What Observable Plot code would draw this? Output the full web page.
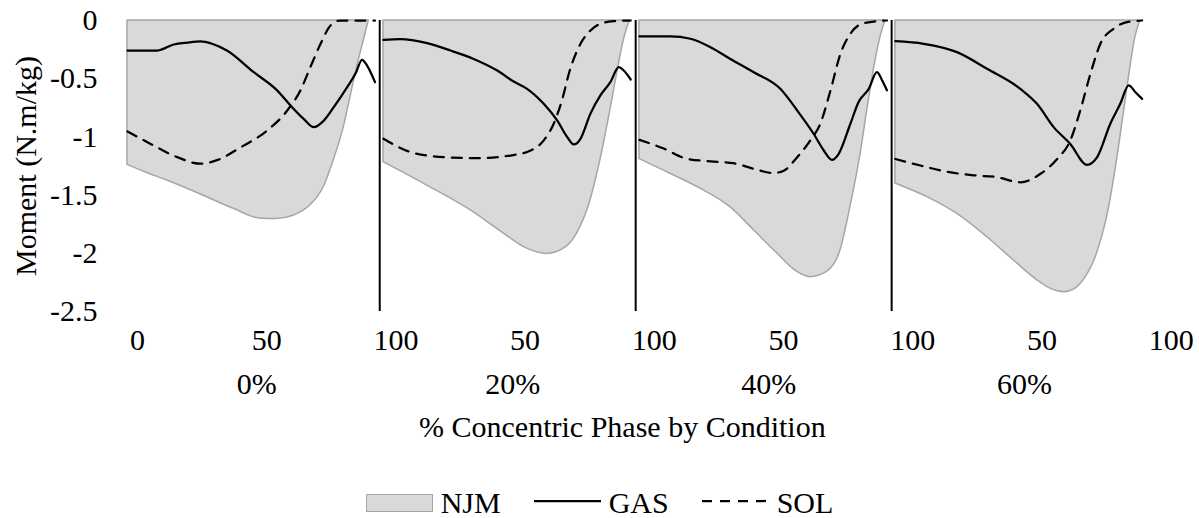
<!DOCTYPE html>
<html><head><meta charset="utf-8">
<script src="https://cdn.jsdelivr.net/npm/d3@7"></script>
<script src="https://cdn.jsdelivr.net/npm/@observablehq/plot@0.6"></script>
<style>
html,body{margin:0;padding:0;background:#fff;overflow:hidden;}
body{width:1199px;height:518px;position:relative;font-family:"Liberation Serif","Times New Roman",serif;color:#000;}
#chart svg{display:block;}
#legend{position:absolute;left:0;top:488px;width:1199px;height:30px;display:flex;justify-content:center;align-items:center;font-size:30px;line-height:30px;}
#legend .item{display:flex;align-items:center;}
#legend .sw{width:67px;height:18px;box-sizing:border-box;background:#d9d9d9;border:1.5px solid #a6a6a6;}
#legend svg{display:block;}
</style></head><body>
<div id="chart"></div>
<div id="legend"></div>
<script>
// Conditions (panels) and axis labels
const conditions = ["0%", "20%", "40%", "60%"];
const xTickLabels = ["0", "50", "100", "50", "100", "50", "100", "50", "100"];
const yTicks = [0, -0.5, -1, -1.5, -2, -2.5];
const seriesNames = ["NJM", "GAS", "SOL"];

// [% concentric phase, moment N.m/kg]
const njm0 = [[0,-1.24],[8,-1.31],[16,-1.375],[29,-1.49],[43,-1.62],[53,-1.70],[60,-1.705],[67,-1.675],[73.5,-1.59],[79,-1.43],[83,-1.20],[87,-0.92],[89.7,-0.66],[92.4,-0.40],[95.1,-0.17],[97.1,0]];
const gas0 = [[0,-0.258],[12,-0.258],[18.6,-0.206],[24,-0.19],[29.4,-0.18],[34,-0.2],[40,-0.258],[50.8,-0.444],[60.2,-0.60],[65.6,-0.73],[70.9,-0.845],[75,-0.916],[79,-0.86],[83,-0.745],[88.4,-0.573],[91.7,-0.458],[94.4,-0.338],[96.4,-0.387],[99.6,-0.53]];
const sol0 = [[0,-0.954],[9.3,-1.06],[20,-1.174],[29.4,-1.23],[36,-1.20],[45.5,-1.09],[56.2,-0.945],[64.3,-0.773],[69.6,-0.60],[73.6,-0.40],[77.7,-0.20],[81.7,-0.043],[85.7,0],[99.6,0]];

const njm20 = [[0,-1.217],[17.6,-1.418],[35,-1.63],[48.4,-1.83],[57.8,-1.96],[65.9,-2.005],[72.6,-1.96],[77.9,-1.83],[83.3,-1.546],[87.3,-1.20],[91.3,-0.773],[94,-0.458],[96.7,-0.172],[99.1,0]];
const gas20 = [[0,-0.166],[6.8,-0.16],[17.6,-0.195],[27,-0.258],[36.3,-0.33],[45.8,-0.43],[52.4,-0.524],[57.8,-0.587],[64.5,-0.716],[69.9,-0.859],[73.9,-1.0],[76.6,-1.065],[79.3,-1.016],[83.3,-0.80],[87.3,-0.644],[91.3,-0.53],[94.7,-0.40],[96.7,-0.43],[99.5,-0.507]];
const sol20 = [[0,-1.016],[10.9,-1.13],[24.3,-1.174],[37.7,-1.183],[51.1,-1.16],[59.2,-1.117],[64.5,-1.03],[68.5,-0.887],[71.4,-0.716],[75.4,-0.40],[79.3,-0.20],[83.3,-0.086],[87.3,-0.028],[92.6,-0.006],[99.5,0]];

const njm40 = [[0,-1.19],[12.5,-1.317],[25.9,-1.46],[36.6,-1.604],[46,-1.80],[55.4,-2.0],[63.5,-2.16],[68.8,-2.205],[75.5,-2.16],[80.9,-1.976],[84.9,-1.604],[89,-1.145],[92.3,-0.687],[95,-0.344],[97,-0.143],[99,0]];
const gas40 = [[0,-0.137],[12.5,-0.137],[20.5,-0.157],[28.6,-0.229],[36.6,-0.33],[46,-0.444],[56.7,-0.587],[63.5,-0.773],[70.1,-0.973],[74.2,-1.117],[77.5,-1.197],[80.2,-1.145],[84.9,-0.887],[88.2,-0.70],[92.3,-0.587],[95.6,-0.444],[97.7,-0.515],[99.6,-0.6]];
const sol40 = [[0,-1.025],[9.8,-1.10],[19.2,-1.188],[28.6,-1.21],[37.9,-1.226],[46,-1.274],[54,-1.31],[58.1,-1.29],[63.5,-1.174],[68.8,-1.03],[72.8,-0.887],[76.9,-0.60],[80.9,-0.286],[84.9,-0.114],[90.3,-0.023],[99.6,0]];

const njm60 = [[0,-1.40],[14.1,-1.53],[24.8,-1.66],[36.9,-1.86],[47.6,-2.06],[57,-2.23],[63,-2.31],[68,-2.335],[72,-2.31],[75.8,-2.23],[81.2,-2.0],[85.2,-1.69],[89.2,-1.20],[91.9,-0.80],[94.6,-0.40],[96.6,-0.143],[98.6,0]];
const gas60 = [[0,-0.178],[11.4,-0.20],[24.8,-0.272],[36.9,-0.415],[50.3,-0.587],[57,-0.716],[63.7,-0.916],[70.4,-1.06],[77.1,-1.24],[81.2,-1.174],[86.5,-0.887],[90.5,-0.716],[93.9,-0.558],[96.6,-0.616],[99.3,-0.673]];
const sol60 = [[0,-1.19],[10.1,-1.246],[20.8,-1.30],[31.5,-1.33],[40.9,-1.346],[50.3,-1.39],[58.4,-1.317],[65.1,-1.19],[70.4,-1.03],[74.4,-0.773],[78.5,-0.458],[82.5,-0.20],[87.8,-0.071],[93.2,-0.014],[99.3,0]];

const njmAll = [njm0, njm20, njm40, njm60];
const gasAll = [gas0, gas20, gas40, gas60];
const solAll = [sol0, sol20, sol40, sol60];

// layout of the continuous category axis (Excel-like)
const PANEL_STEP = 103;
const toRows = (arrs) => arrs.flatMap((arr, k) => arr.map(([p, v]) => ({u: PANEL_STEP * k + p, v, panel: k})));
const njmRows = toRows(njmAll);
const gasRows = toRows(gasAll);
const solRows = toRows(solAll);
const separators = conditions.slice(1).map((_, k) => PANEL_STEP * k + 101.5);
const xTickPos = xTickLabels.map((_, i) => 4 + 52 * i);
const labelAt = new Map(xTickPos.map((u, i) => [u, xTickLabels[i]]));
const groupRows = conditions.map((c, k) => ({u: PANEL_STEP * k + 52, c}));

const FS = 30;
const chart = Plot.plot({
  width: 1199,
  height: 460,
  marginLeft: 127,
  marginRight: 28.3,
  marginTop: 20,
  marginBottom: 149,
  style: {fontFamily: "'Liberation Serif','Times New Roman',serif", fontSize: FS + "px", background: "#fff", overflow: "visible", color: "#000"},
  x: {domain: [0, 420]},
  y: {domain: [-2.5, 0]},
  marks: [
    Plot.areaY(njmRows, {x: "u", y: "v", z: "panel", fill: "#d9d9d9", stroke: "#a6a6a6", strokeWidth: 1.5, curve: "monotone-x"}),
    Plot.ruleX(separators, {y1: 0, y2: -2.5, stroke: "#000", strokeWidth: 2}),
    Plot.line(solRows, {x: "u", y: "v", z: "panel", stroke: "#000", strokeWidth: 2.25, strokeDasharray: "10,8", curve: "monotone-x"}),
    Plot.line(gasRows, {x: "u", y: "v", z: "panel", stroke: "#000", strokeWidth: 2.25, curve: "monotone-x"}),
    Plot.axisY({ticks: yTicks, tickFormat: d => String(d), tickSize: 0, tickPadding: 30, fontSize: FS, label: null}),
    Plot.axisX({ticks: xTickPos, tickFormat: d => labelAt.get(d), tickSize: 0, tickPadding: 17, fontSize: FS, label: null}),
    Plot.text(groupRows, {x: "u", text: "c", frameAnchor: "bottom", lineAnchor: "middle", textAnchor: "middle", dy: 73, fontSize: FS, fill: "#000"}),
    Plot.text(["% Concentric Phase by Condition"], {frameAnchor: "bottom", lineAnchor: "middle", textAnchor: "middle", dx: -27, dy: 116, fontSize: FS, fill: "#000"}),
    Plot.text(["Moment (N.m/kg)"], {frameAnchor: "left", textAnchor: "middle", lineAnchor: "middle", rotate: -90, dx: -101, fontSize: FS, fill: "#000"})
  ]
});
document.getElementById("chart").appendChild(chart);

// Legend
const legend = document.getElementById("legend");
const mk = (html) => { const d = document.createElement("div"); d.className = "item"; d.innerHTML = html; return d; };
legend.appendChild(mk(`<div class="sw"></div><span style="margin-left:8px">${seriesNames[0]}</span>`));
legend.appendChild(mk(`<svg width="67" height="30" style="margin-left:33px"><line x1="0" x2="67" y1="13" y2="13" stroke="#000" stroke-width="2.25"/></svg><span style="margin-left:8px">${seriesNames[1]}</span>`));
legend.appendChild(mk(`<svg width="65" height="30" style="margin-left:33px"><line x1="0" x2="65" y1="13" y2="13" stroke="#000" stroke-width="2.25" stroke-dasharray="10,8"/></svg><span style="margin-left:10px">${seriesNames[2]}</span>`));
</script>
</body></html>
